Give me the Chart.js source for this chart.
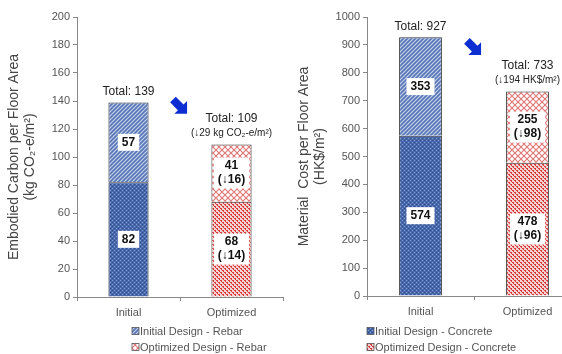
<!DOCTYPE html>
<html>
<head>
<meta charset="utf-8">
<script src="https://cdn.jsdelivr.net/npm/chart.js@4/dist/chart.umd.min.js"></script>
<style>
  html, body { margin: 0; padding: 0; background: #fff; overflow: hidden; width: 562px; height: 354px; }
  #left { position: absolute; left: 0; top: 0; width: 290px; height: 354px; }
  #rightWrap { position: absolute; left: 290px; top: 0; width: 272px; height: 354px; overflow: hidden; }
  #right { width: 292px; height: 354px; }
</style>
</head>
<body>
<div id="left"><canvas id="graficoCarbono" width="290" height="354"></canvas></div>
<div id="rightWrap"><canvas id="graficoCusto" width="292" height="354"></canvas></div>
<script>
// categorias
const categorias = ['Initial', 'Optimized'];

// embodied carbon (kg CO2-e/m2)
const carbonoConcreto = [82, 68];
const carbonoVergalhao = [57, 41];
const carbonoTotal = [139, 109];
const carbonoReducaoConcreto = [null, 14];
const carbonoReducaoVergalhao = [null, 16];
const carbonoReducaoTotal = [null, 29];

// material cost (HK$/m2)
const custoConcreto = [574, 478];
const custoVergalhao = [353, 255];
const custoTotal = [927, 733];
const custoReducaoConcreto = [null, 96];
const custoReducaoVergalhao = [null, 98];
const custoReducaoTotal = [null, 194];

const legendaCarbono = ['Initial Design - Rebar', 'Optimized Design - Rebar'];
const legendaCusto = ['Initial Design - Concrete', 'Optimized Design - Concrete'];

// padroes de preenchimento
function criarPadrao(tipo) {
  const c = document.createElement('canvas');
  const ctx = c.getContext('2d');
  if (tipo == 'initConcreto') {
    c.width = 4; c.height = 4;
    ctx.fillStyle = '#4868ac'; ctx.fillRect(0, 0, 4, 4);
    ctx.fillStyle = '#869ed2';
    ctx.fillRect(0, 0, 1, 1); ctx.fillRect(2, 2, 1, 1);
    ctx.fillStyle = '#2f4a8a';
    ctx.fillRect(2, 0, 1, 1); ctx.fillRect(0, 2, 1, 1);
  } else if (tipo == 'initVergalhao') {
    c.width = 4; c.height = 4;
    ctx.fillStyle = '#c3d0ea'; ctx.fillRect(0, 0, 4, 4);
    ctx.strokeStyle = '#5775b6'; ctx.lineWidth = 1.6;
    ctx.beginPath();
    ctx.moveTo(-1, 5); ctx.lineTo(5, -1);
    ctx.moveTo(-1, 1); ctx.lineTo(1, -1);
    ctx.moveTo(3, 5); ctx.lineTo(5, 3);
    ctx.stroke();
  } else if (tipo == 'optConcreto') {
    c.width = 4; c.height = 4;
    ctx.fillStyle = '#f6d3d3'; ctx.fillRect(0, 0, 4, 4);
    ctx.fillStyle = '#d63c3c';
    ctx.fillRect(0, 0, 2, 1); ctx.fillRect(2, 2, 2, 1);
    ctx.fillRect(1, 1, 1, 1); ctx.fillRect(3, 3, 1, 1);
  } else {
    c.width = 6; c.height = 6;
    ctx.fillStyle = '#ffffff'; ctx.fillRect(0, 0, 6, 6);
    ctx.strokeStyle = '#e07474'; ctx.lineWidth = 1.1;
    ctx.beginPath();
    ctx.moveTo(0, 0); ctx.lineTo(6, 6);
    ctx.moveTo(6, 0); ctx.lineTo(0, 6);
    ctx.stroke();
  }
  return document.createElement('canvas').getContext('2d').createPattern(c, 'repeat');
}

const padInitConcreto = criarPadrao('initConcreto');
const padInitVergalhao = criarPadrao('initVergalhao');
const padOptConcreto = criarPadrao('optConcreto');
const padOptVergalhao = criarPadrao('optVergalhao');

function seta(ctx, x, y) {
  ctx.save();
  ctx.translate(x, y);
  ctx.rotate(Math.PI / 4);
  ctx.fillStyle = '#0d2fd1';
  ctx.beginPath();
  ctx.moveTo(-10, -4); ctx.lineTo(1, -4); ctx.lineTo(1, -9);
  ctx.lineTo(10, 0);
  ctx.lineTo(1, 9); ctx.lineTo(1, 4); ctx.lineTo(-10, 4);
  ctx.closePath();
  ctx.fill();
  ctx.restore();
}

function caixaTexto(ctx, linhas, x, y) {
  ctx.font = 'bold 12px "Liberation Sans", Arial, sans-serif';
  let larg = 0;
  linhas.forEach(function (l) { larg = Math.max(larg, ctx.measureText(l).width); });
  const alt = linhas.length * 14 + 3;
  ctx.fillStyle = '#ffffff';
  ctx.fillRect(x - larg / 2 - 4, y - alt / 2, larg + 8, alt);
  ctx.fillStyle = '#111';
  ctx.textAlign = 'center';
  ctx.textBaseline = 'middle';
  linhas.forEach(function (l, i) {
    ctx.fillText(l, x, y - (linhas.length - 1) * 7 + i * 14);
  });
}

// plugin para rotulos, totais, seta e legenda
const pluginRotulos = {
  id: 'rotulos',
  afterDatasetsDraw: function (chart) {
    const cfg = chart.options.plugins.rotulos;
    const ctx = chart.ctx;
    const sy = chart.scales.y;
    const sx = chart.scales.x;
    ctx.save();
    chart.data.datasets.forEach(function (ds, d) {
      const meta = chart.getDatasetMeta(d);
      meta.data.forEach(function (bar, i) {
        const linhas = [String(ds.data[i])];
        const red = cfg.reducoes[d][i];
        if (red != null) linhas.push('(\u2193' + red + ')');
        caixaTexto(ctx, linhas, bar.x, (bar.y + bar.base) / 2);
      });
    });
    const meta = chart.getDatasetMeta(1);
    ctx.textAlign = 'center';
    ctx.textBaseline = 'middle';
    meta.data.forEach(function (bar, i) {
      ctx.fillStyle = '#222';
      if (cfg.reducaoTotal[i] == null) {
        ctx.font = '12px "Liberation Sans", Arial, sans-serif';
        ctx.fillText('Total: ' + cfg.totais[i], bar.x, bar.y - 11);
      } else {
        ctx.font = '12px "Liberation Sans", Arial, sans-serif';
        ctx.fillText('Total: ' + cfg.totais[i], bar.x, bar.y - 26);
        ctx.font = '10px "Liberation Sans", Arial, sans-serif';
        ctx.fillText('(\u2193' + cfg.reducaoTotal[i] + ' ' + cfg.unidade + ')', bar.x, bar.y - 11);
      }
    });
    seta(ctx, (sx.getPixelForValue(0) + sx.getPixelForValue(1)) / 2, sy.getPixelForValue(cfg.setaY));
    // legenda
    ctx.font = '11px "Liberation Sans", Arial, sans-serif';
    ctx.textAlign = 'left';
    cfg.legenda.forEach(function (txt, i) {
      const ly = cfg.legendaY + i * 16;
      ctx.fillStyle = cfg.legendaPad[i];
      ctx.fillRect(cfg.legendaX, ly - 3.5, 7, 7);
      ctx.strokeStyle = '#555';
      ctx.lineWidth = 0.8;
      ctx.strokeRect(cfg.legendaX, ly - 3.5, 7, 7);
      ctx.fillStyle = '#555';
      ctx.fillText(txt, cfg.legendaX + 8, ly + 0.5);
    });
    ctx.restore();
  }
};

function opcoesEscala(max, passo, titulo, alturaX) {
  return {
    x: {
      stacked: true,
      grid: { display: true, drawOnChartArea: false, color: '#888', tickLength: 4, offset: true },
      border: { color: '#888' },
      ticks: { color: '#555', font: { size: 11, family: '"Liberation Sans", Arial, sans-serif' }, padding: 5 },
      afterFit: function (s) { s.height = alturaX; }
    },
    y: {
      stacked: true,
      min: 0, max: max,
      grid: { display: true, drawOnChartArea: false, color: '#888', tickLength: 4 },
      border: { color: '#888' },
      ticks: {
        stepSize: passo, color: '#555', padding: 3,
        font: { size: 11, family: '"Liberation Sans", Arial, sans-serif' },
        callback: function (v) { return String(v); }
      },
      title: {
        display: true, text: titulo, color: '#444', padding: { top: 6, bottom: 2 },
        font: { size: 14, family: '"Liberation Sans", Arial, sans-serif', lineHeight: 1.15 }
      },
      afterFit: function (s) { s.width = 77; }
    }
  };
}

function plotarGrafico(id, concreto, vergalhao, cfgRotulos, max, passo, titulo, padDireita, baixo, pct) {
  const dados = {
    labels: categorias,
    datasets: [{
      label: 'Concrete',
      data: concreto,
      backgroundColor: [padInitConcreto, padOptConcreto],
      borderColor: '#333', borderWidth: 1,
      barPercentage: pct, categoryPercentage: 1
    }, {
      label: 'Rebar',
      data: vergalhao,
      backgroundColor: [padInitVergalhao, padOptVergalhao],
      borderColor: '#333', borderWidth: 1,
      barPercentage: pct, categoryPercentage: 1
    }]
  };
  const config = {
    type: 'bar',
    data: dados,
    options: {
      responsive: false,
      animation: false,
      layout: { padding: { top: 17, right: padDireita, left: 0, bottom: 0 } },
      plugins: { legend: { display: false }, tooltip: { enabled: false }, rotulos: cfgRotulos },
      scales: opcoesEscala(max, passo, titulo, baixo)
    },
    plugins: [pluginRotulos]
  };
  return new Chart(document.getElementById(id), config);
}

plotarGrafico('graficoCarbono', carbonoConcreto, carbonoVergalhao, {
  reducoes: [carbonoReducaoConcreto, carbonoReducaoVergalhao],
  totais: carbonoTotal, reducaoTotal: carbonoReducaoTotal,
  unidade: 'kg CO\u2082-e/m\u00b2', setaY: 136,
  legenda: legendaCarbono, legendaPad: [padInitVergalhao, padOptVergalhao],
  legendaX: 132, legendaY: 331
}, 200, 20, ['Embodied Carbon per Floor Area', '(kg CO\u2082-e/m\u00b2)'], 7, 57, 0.39);

plotarGrafico('graficoCusto', custoConcreto, custoVergalhao, {
  reducoes: [custoReducaoConcreto, custoReducaoVergalhao],
  totais: custoTotal, reducaoTotal: custoReducaoTotal,
  unidade: 'HK$/m\u00b2', setaY: 889,
  legenda: legendaCusto, legendaPad: [padInitConcreto, padOptConcreto],
  legendaX: 77, legendaY: 331
}, 1000, 100, ['Material  Cost per Floor Area', '(HK$/m\u00b2)'], 1, 58, 0.4);
</script>
</body>
</html>
